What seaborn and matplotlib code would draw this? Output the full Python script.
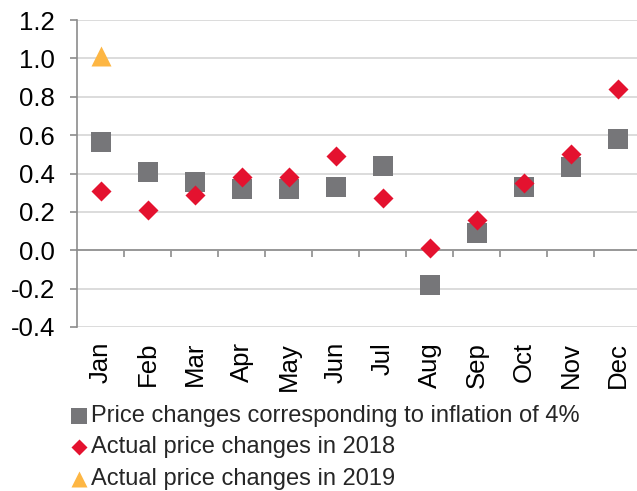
import numpy as np
import pandas as pd
import matplotlib
matplotlib.use("Agg")
import matplotlib.pyplot as plt
import seaborn as sns

months = ["Jan", "Feb", "Mar", "Apr", "May", "Jun",
          "Jul", "Aug", "Sep", "Oct", "Nov", "Dec"]
inflation_4pct = [0.565, 0.41, 0.355, 0.32, 0.32, 0.33,
                  0.44, -0.18, 0.09, 0.33, 0.435, 0.58]
actual_2018 = [0.31, 0.21, 0.29, 0.38, 0.38, 0.49,
               0.27, 0.01, 0.16, 0.35, 0.50, 0.84]
months_2019 = ["Jan"]
actual_2019 = [1.01]

labels = ["Price changes corresponding to inflation of 4%",
          "Actual price changes in 2018",
          "Actual price changes in 2019"]
y_ticks = [-0.4, -0.2, 0.0, 0.2, 0.4, 0.6, 0.8, 1.0, 1.2]

GRAY = "#767679"
RED = "#e4122f"
ORANGE = "#fdb643"
AXIS = "#8c8c8c"

sns.set_theme(style="white")
plt.rcParams["font.family"] = ["Liberation Sans", "DejaVu Sans"]
plt.rcParams["axes.unicode_minus"] = False

df_infl = pd.DataFrame({"month": months, "value": inflation_4pct})
df_2018 = pd.DataFrame({"month": months, "value": actual_2018})
df_2019 = pd.DataFrame({"month": months_2019, "value": actual_2019})

fig = plt.figure(figsize=(6.37, 4.91), dpi=100)
ax = fig.add_axes([77 / 637, 1 - 327 / 491, 564 / 637, 307 / 491])

sns.scatterplot(data=df_infl, x="month", y="value", marker="s", s=207,
                color=GRAY, linewidth=0, label=labels[0], ax=ax, zorder=3)
sns.scatterplot(data=df_2018, x="month", y="value", marker="D", s=104,
                color=RED, linewidth=0, label=labels[1], ax=ax, zorder=4)
sns.scatterplot(data=df_2019, x="month", y="value", marker="^", s=207,
                color=ORANGE, linewidth=0, label=labels[2], ax=ax, zorder=4)

ax.set_xlim(-0.5, len(months) - 0.5)
ax.set_ylim(-0.4, 1.2)
ax.set_yticks(y_ticks)
ax.set_yticklabels([f"{v:.1f}" for v in y_ticks])
ax.set_xticks(range(len(months)))
ax.set_xticklabels(months)
ax.set_xticks(np.arange(0.5, len(months) - 1), minor=True)
ax.set_xlabel("")
ax.set_ylabel("")

ax.set_axisbelow(True)
ax.yaxis.grid(True, color="#d9d9d9", linewidth=1.3)
ax.xaxis.grid(False)

for side in ["top", "right"]:
    ax.spines[side].set_visible(False)
ax.spines["left"].set_color(AXIS)
ax.spines["left"].set_linewidth(1.2)
ax.spines["bottom"].set_position(("data", 0))
ax.spines["bottom"].set_color(AXIS)
ax.spines["bottom"].set_linewidth(1.2)

ax.tick_params(axis="y", which="major", direction="out", length=5, width=1.2,
               color=AXIS, labelsize=18.5, labelcolor="black", pad=11, left=True)
ax.tick_params(axis="x", which="major", length=0, labelsize=18.5,
               labelcolor="black", pad=66, labelrotation=90)
ax.tick_params(axis="x", which="minor", direction="out", length=5, width=1.2,
               color=AXIS, bottom=True)

handles, labs = ax.get_legend_handles_labels()
ax.get_legend().remove()
fig.legend(handles, labs, loc="upper left", bbox_to_anchor=(70 / 637, 1 - 405 / 491),
           frameon=False, fontsize=17, markerscale=0.8, handlelength=0.75,
           handletextpad=0.15, labelspacing=0.4, borderpad=0, borderaxespad=0)

plt.savefig("out.png", dpi=100)
plt.close()
